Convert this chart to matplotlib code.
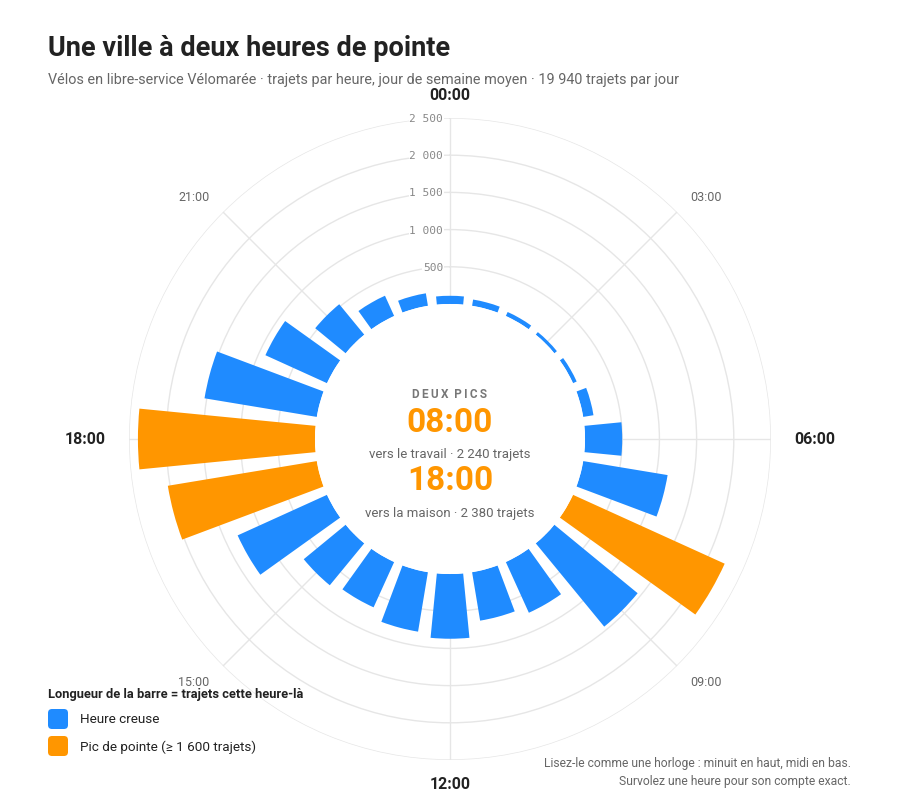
import numpy as np
import matplotlib
matplotlib.use('Agg')
import matplotlib.pyplot as plt
from matplotlib.patches import FancyBboxPatch

plt.rcParams['font.family'] = ['Roboto', 'DejaVu Sans']

# trips per hour, weekday average
hours = list(range(24))
trips = [110, 85, 60, 45, 55, 140, 500, 1150, 2240, 1450, 750, 660,
         870, 810, 670, 730, 1320, 2030, 2380, 1530, 910, 530, 300, 170]
peak_threshold = 1600

radial_ticks = [500, 1000, 1500, 2000, 2500]
radial_labels = ['500', '1 000', '1 500', '2 000', '2 500']
main_hours = [0, 6, 12, 18]
minor_hours = [3, 9, 15, 21]

BLUE = '#1f8bff'
ORANGE = '#ff9600'
GRID = '#e6e6e6'

W, H = 900, 804
fig = plt.figure(figsize=(W / 100, H / 100), dpi=100)
fig.patch.set_facecolor('white')

# polar axes centred at (450, 440) px, radius 321 px
ax = fig.add_axes([129 / W, (H - 761) / H, 642 / W, 642 / H], projection='polar')
ax.set_theta_zero_location('N')
ax.set_theta_direction(-1)
ax.set_ylim(0, 2500)
ax.set_rorigin(-1815)
for s in ax.spines.values():
    s.set_visible(False)
    s.set_color('none')

theta = np.array(hours) * 2 * np.pi / 24
colors = [ORANGE if v >= peak_threshold else BLUE for v in trips]
ax.bar(theta, trips, width=0.195, bottom=0, color=colors, align='center',
       zorder=3, linewidth=0)

ax.set_yticks(radial_ticks)
ax.set_yticklabels([])
ax.set_xticks(np.array(minor_hours + main_hours) * 2 * np.pi / 24)
ax.set_xticklabels([])
ax.grid(True, color=GRID, lw=1)
ax.set_axisbelow(True)

for v, lab in zip(radial_ticks, radial_labels):
    ax.annotate(lab, xy=(0, v), xytext=(-5, 0), textcoords='offset points',
                ha='right', va='center', family='DejaVu Sans Mono',
                fontsize=8, color='#888888', zorder=4,
                bbox=dict(fc='white', ec='none', pad=0.6))

for h in main_hours:
    r = 2822 if h in (0, 12) else 3091
    ax.text(h * 2 * np.pi / 24, r, f'{h:02d}:00', ha='center', va='center',
            fontsize=11.5, fontweight='bold', color='#222222', clip_on=False)
# diagonal labels: offsets in pixels from the centre of the dial
for h in minor_hours:
    a = h * 2 * np.pi / 24
    dx = 256 * np.sign(np.sin(a))
    dy = 242 * np.sign(np.cos(a))
    ax.annotate(f'{h:02d}:00', xy=(0, -1815), xytext=(dx, dy),
                textcoords='offset pixels', ha='center', va='center',
                fontsize=9, color='#666666', annotation_clip=False)


def fy(y):
    return 1 - y / H


# title block
fig.text(48 / W, fy(48), 'Une ville à deux heures de pointe', fontsize=19.5,
         fontweight='bold', color='#222222', ha='left', va='center')
fig.text(48 / W, fy(80), 'Vélos en libre-service Vélomarée · trajets par heure, '
         'jour de semaine moyen · 19 940 trajets par jour', fontsize=10.4,
         color='#666666', ha='left', va='center')

# centre annotation
fig.text(450 / W, fy(394), '\u2009'.join('DEUX') + '  ' + '\u2009'.join('PICS'),
         fontsize=8.5, fontweight='bold', color='#777777', ha='center', va='center')
fig.text(450 / W, fy(423), '08:00', fontsize=24, fontweight='bold',
         color=ORANGE, ha='center', va='center')
fig.text(450 / W, fy(455), 'vers le travail · 2 240 trajets', fontsize=9.5,
         color='#666666', ha='center', va='center')
fig.text(450 / W, fy(481), '18:00', fontsize=24, fontweight='bold',
         color=ORANGE, ha='center', va='center')
fig.text(450 / W, fy(513), 'vers la maison · 2 380 trajets', fontsize=9.5,
         color='#666666', ha='center', va='center')

# legend
fig.text(48 / W, fy(695), 'Longueur de la barre = trajets cette heure-là',
         fontsize=9.3, fontweight='bold', color='#222222', ha='left', va='center')
for y, col, lab in [(720, BLUE, 'Heure creuse'),
                    (747, ORANGE, 'Pic de pointe (≥ 1 600 trajets)')]:
    fig.add_artist(FancyBboxPatch((48 / 100, (H - y - 10) / 100), 0.2, 0.2,
                                  boxstyle='round,pad=0,rounding_size=0.04',
                                  transform=fig.dpi_scale_trans, fc=col, ec='none'))
    fig.text(80 / W, fy(y), lab, fontsize=9.7, color='#222222',
             ha='left', va='center')

# reading notes
fig.text(851 / W, fy(764), 'Lisez-le comme une horloge : minuit en haut, midi en bas.',
         fontsize=8.75, color='#666666', ha='right', va='center')
fig.text(851 / W, fy(782), 'Survolez une heure pour son compte exact.',
         fontsize=8.75, color='#666666', ha='right', va='center')

fig.savefig('out.png', dpi=100)
